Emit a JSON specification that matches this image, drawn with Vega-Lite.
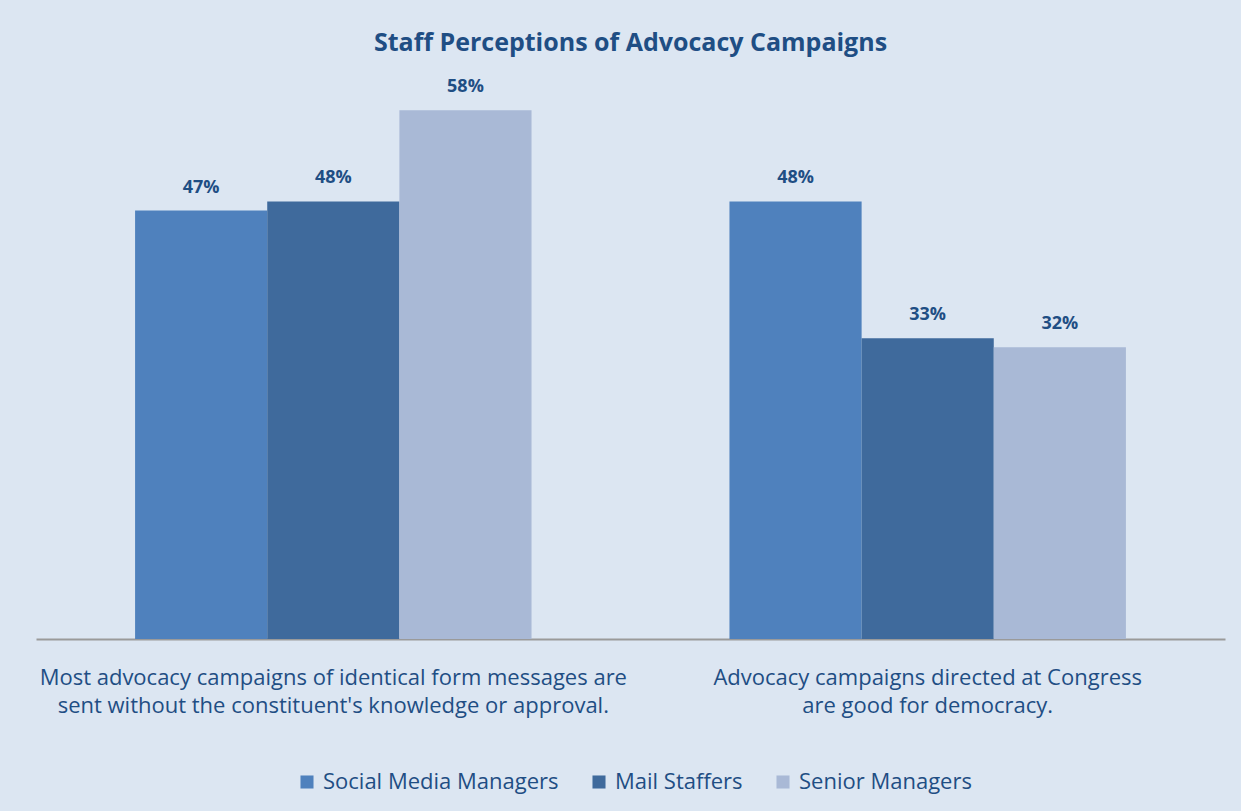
{
  "$schema": "https://vega.github.io/schema/vega-lite/v6.json",
  "autosize": {"type": "none"},
  "width": 1189,
  "height": 547,
  "padding": {"left": 36, "top": 92, "right": 16, "bottom": 172},
  "background": "#dce6f2",
  "title": {
    "text": "Staff Perceptions of Advocacy Campaigns",
    "anchor": "middle",
    "frame": "group",
    "font": "Open Sans",
    "fontSize": 25,
    "fontWeight": "bold",
    "color": "#1f4e84",
    "offset": 22
  },
  "data": {
    "values": [
      {"statement": "Most advocacy campaigns of identical form messages are|sent without the constituent's knowledge or approval.", "group": "Social Media Managers", "value": 0.47},
      {"statement": "Most advocacy campaigns of identical form messages are|sent without the constituent's knowledge or approval.", "group": "Mail Staffers", "value": 0.48},
      {"statement": "Most advocacy campaigns of identical form messages are|sent without the constituent's knowledge or approval.", "group": "Senior Managers", "value": 0.58},
      {"statement": "Advocacy campaigns directed at Congress|are good for democracy.", "group": "Social Media Managers", "value": 0.48},
      {"statement": "Advocacy campaigns directed at Congress|are good for democracy.", "group": "Mail Staffers", "value": 0.33},
      {"statement": "Advocacy campaigns directed at Congress|are good for democracy.", "group": "Senior Managers", "value": 0.32}
    ]
  },
  "encoding": {
    "x": {
      "field": "statement", "type": "nominal", "sort": null,
      "scale": {"paddingInner": 0.333, "paddingOuter": 0.1667},
      "axis": {
        "title": null,
        "labelAngle": 0,
        "labelExpr": "split(datum.label, '|')",
        "labelFont": "Open Sans",
        "labelFontSize": 22,
        "labelColor": "#1f4e84",
        "labelLineHeight": 28,
        "labelPadding": 28,
        "ticks": false,
        "domainColor": "#9a9a9a",
        "domainWidth": 2,
        "labelLimit": 0
      }
    },
    "xOffset": {"field": "group", "type": "nominal", "sort": ["Social Media Managers", "Mail Staffers", "Senior Managers"], "scale": {"paddingInner": 0, "paddingOuter": 0}},
    "y": {
      "field": "value", "type": "quantitative",
      "scale": {"domain": [0, 0.6]},
      "axis": null
    }
  },
  "layer": [
    {
      "mark": {"type": "bar"},
      "encoding": {
        "color": {
          "field": "group", "type": "nominal",
          "sort": ["Social Media Managers", "Mail Staffers", "Senior Managers"],
          "scale": {"domain": ["Social Media Managers", "Mail Staffers", "Senior Managers"], "range": ["#4f81bd", "#3f6a9c", "#a9b9d6"]},
          "legend": {
            "title": null,
            "orient": "none",
            "legendX": 260,
            "legendY": 679,
            "direction": "horizontal",
            "symbolType": "square",
            "symbolSize": 170,
            "symbolStrokeWidth": 0,
            "labelFont": "Open Sans",
            "labelFontSize": 22,
            "labelColor": "#1f4e84",
            "labelOffset": 5,
            "labelLimit": 0,
            "columnPadding": 29
          }
        }
      }
    },
    {
      "mark": {"type": "text", "baseline": "bottom", "dy": -14, "font": "Open Sans", "fontSize": 18, "fontWeight": "bold", "color": "#1f4e84"},
      "encoding": {
        "text": {"field": "value", "type": "quantitative", "format": ".0%"},
        "detail": {"field": "group"}
      }
    }
  ],
  "config": {"view": {"stroke": null}}
}
